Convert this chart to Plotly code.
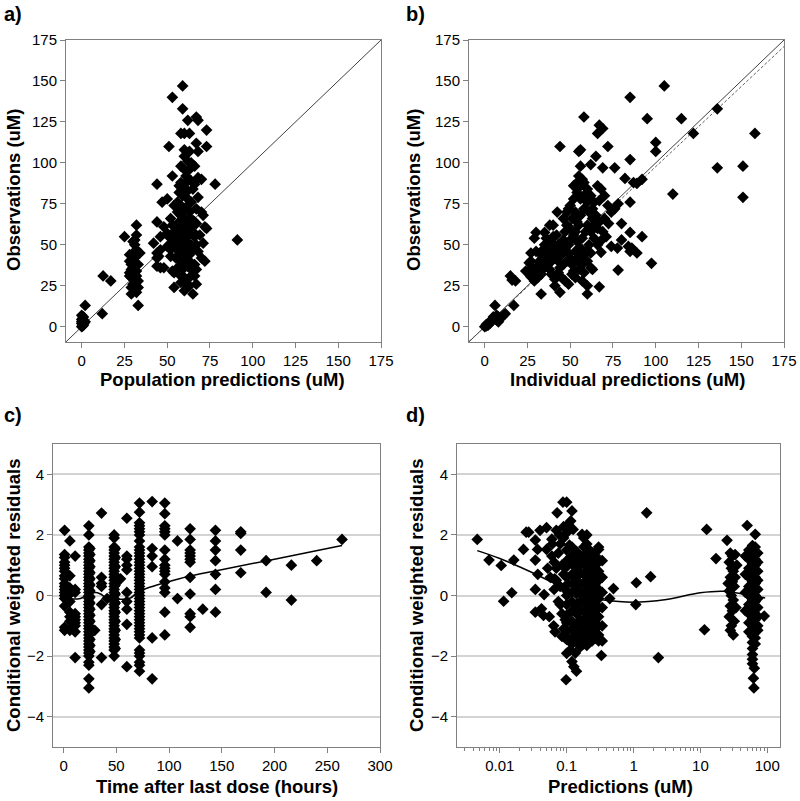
import plotly.graph_objects as go

# ---------------- Panel a: population predictions vs observations ----------------
a_pred = [0, 0.5, 1, 0, 1, 0.5, 0, 2, 1, 0,
          2, 1, 0.5, 1.5, 0, 12, 12.5, 17, 25, 28,
          28, 29, 29, 28, 28, 29, 29, 30, 30, 31,
          31, 31, 30, 32, 32, 32, 33, 32, 32, 33,
          33, 32, 33, 33, 30, 31, 34, 29, 30, 31,
          42, 44, 44, 44, 44, 44, 46, 47, 48, 46,
          45, 46, 48, 50, 50, 51, 52, 52, 53, 53,
          54, 54, 54, 51, 53, 52, 54, 55, 52, 50,
          59, 53, 59, 62, 67, 68, 58, 60, 63, 73,
          67, 73, 68, 63, 60, 62, 58, 60, 63, 66,
          64, 58, 61, 57, 66, 68, 70, 78, 57, 59,
          62, 65, 68, 56, 58, 61, 64, 67, 70, 71,
          56, 58, 60, 63, 66, 56, 59, 61, 64, 67,
          72, 73, 55, 57, 60, 63, 66, 69, 56, 58,
          61, 64, 67, 71, 55, 57, 60, 62, 65, 68,
          55, 58, 61, 63, 66, 70, 72, 56, 59, 62,
          64, 67, 57, 60, 63, 66, 58, 61, 63, 67,
          60, 65, 91, 59, 62, 65, 57, 60, 63, 62,
          59, 61, 64, 60, 57, 60, 63, 59, 62, 65]
a_obs = [0, 1, 2, 3, 4, 5, 7, 3, 1, 2,
         13, 6, 0.5, 2.5, 4.5, 8, 31, 28, 55, 44,
         40, 38, 35, 33, 31, 20, 24, 36, 30, 46,
         53, 42, 26, 62, 56, 47, 45, 34, 31, 28,
         24, 21, 13, 38, 52, 50, 45, 30, 41, 37,
         51, 87, 64, 45, 42, 37, 36, 76, 61, 55,
         43, 47, 36, 78, 57, 110, 50, 43, 34, 92,
         33, 74, 24, 55, 62, 66, 58, 53, 47, 49,
         147, 140, 133, 126, 128, 126, 118, 118, 118, 120,
         112, 110, 107, 107, 104, 101, 98, 96, 96, 98,
         89, 88, 88, 86, 87, 91, 90, 87, 82, 80,
         83, 84, 79, 76, 74, 73, 76, 72, 70, 68,
         70, 68, 66, 66, 64, 62, 60, 62, 61, 63,
         61, 60, 58, 56, 55, 56, 55, 56, 52, 50,
         52, 50, 50, 51, 48, 46, 47, 45, 47, 46,
         42, 40, 42, 40, 38, 42, 40, 36, 35, 37,
         35, 35, 32, 30, 30, 31, 27, 26, 25, 26,
         22, 20, 53, 57, 59, 58, 64, 71, 70, 78,
         84, 92, 100, 108, 44, 40, 44, 52, 48, 65]

# ---------------- Panel b: individual predictions vs observations ----------------
b_ipred = [0, 1, 2, 1, 3, 2, 4, 5, 6, 7,
           8, 8, 9, 10, 11, 12, 7, 3, 6, 1,
           105, 85, 58, 95, 115, 136, 122, 158, 100, 100,
           110, 136, 151, 151, 97.5, 44, 67, 69, 66, 72,
           56, 55, 85, 92, 89, 82, 85, 78, 76, 76,
           69, 56, 65, 62, 80, 80, 85, 84, 86, 85,
           92, 89, 77.6, 78, 67, 72.4, 68.4, 68, 74, 63,
           60, 60, 67, 44, 41, 33, 16, 15, 17, 30,
           35, 29, 38, 42.4, 27, 26, 24, 27, 18, 87,
           30, 31, 32, 33, 34, 35, 36, 37, 38, 39,
           40, 41, 42, 43, 44, 45, 46, 47, 48, 49,
           50, 51, 52, 53, 47, 49, 45, 43, 41, 39,
           46, 48, 50, 52, 54, 56, 58, 60, 62, 64,
           50, 52, 54, 56, 58, 60, 62, 54, 56, 58,
           60, 62, 64, 66, 53, 55, 57, 59, 61, 63,
           49, 51, 53, 55, 57, 59, 61, 63, 65, 67,
           47, 45, 43, 41, 39, 37, 35, 33, 31, 29,
           54, 56, 58, 60, 52, 55, 57, 53, 51, 49,
           66, 68, 70, 72, 74, 70, 66, 64, 69, 71,
           55, 53, 51, 57, 58, 48, 46, 44, 42, 40,
           36, 34, 32, 30, 38, 28, 26, 27, 36, 62]
b_obs = [0, 1, 2, 1.5, 3, 1, 4, 6, 5, 4,
         3, 6, 5, 6, 7, 8, 7, 2, 13, 0.5,
         147, 140, 128, 127, 127, 133, 118, 118, 112.5, 107,
         81, 97, 98, 79, 38.7, 110, 123, 121, 118, 110,
         108, 107, 102, 90, 87.5, 90.5, 76, 75, 72, 97,
         97, 98, 104, 99, 63, 53, 57.6, 49, 48, 46,
         55, 45, 48, 34.6, 77, 63, 53, 45.4, 49, 35,
         25, 20, 24.4, 21, 25, 20, 28.5, 31, 13, 57.6,
         57.6, 54, 62, 70, 45, 39, 34, 30.5, 28, 88,
         33, 36, 40, 44, 47, 50, 42, 38, 46, 52,
         55, 48, 44, 40, 36, 50, 53, 58, 62, 45,
         42, 38, 34, 30, 28, 26, 30, 33, 29, 32,
         66, 70, 74, 78, 82, 86, 88, 84, 80, 76,
         60, 56, 52, 48, 44, 40, 36, 64, 68, 72,
         62, 58, 54, 50, 46, 42, 38, 46, 50, 66,
         50, 54, 58, 62, 54, 58, 70, 72, 68, 64,
         48, 44, 50, 42, 40, 44, 36, 32, 30, 28,
         88, 78, 80, 76, 86, 92, 90, 70, 66, 72,
         86, 84, 80, 74, 70, 66, 60, 62, 58, 55,
         35, 40, 32, 28, 33, 40, 38, 46, 56, 62,
         54, 42, 38, 46, 35, 36, 33, 40, 48, 45]
b_fit_x = [-9.2, 175]
b_fit_y = [-9.0, 171]
identity = [-9.2, 175]

# ---------------- Panel c: CWRES vs time after last dose (by nominal time) ----------------
c_times = [1, 6, 11, 24, 25, 29.6, 36, 41.3, 48, 49, 54, 60, 72, 84, 96, 108, 120, 132, 144, 168, 192, 216, 240, 264]
c_t1 = [2.15, 1.35, 1.25, 1.1, 1.0, 0.9, 0.8, 0.65, 0.55, 0.4, 0.3, 0.2, 0.1, 0.0, -0.1, -0.35, -1.05, -1.15]
c_t6 = [1.8, 0.65, 0.25, 0.15, 0.05, -0.2, -0.55, -0.7, -0.85, -1.1, -1.15]
c_t11 = [1.3, 0.2, 0.1, -0.6, -0.7, -0.8, -0.9, -1.0, -1.2, -2.05]
c_t24 = [2.3, 2.0, 1.6, 1.5, 1.4, 1.3, 1.2, 1.1, 1.0, 0.9, 0.8, 0.7, 0.6, 0.5, 0.4, 0.3, 0.2, 0.1, 0.0,
         -0.1, -0.2, -0.3, -0.4, -0.5, -0.6, -0.7, -0.8, -0.9, -1.0, -1.1, -1.2, -1.3, -1.4, -1.5,
         -1.6, -1.7, -1.8, -1.9, -2.0, -2.2, -2.3, -2.75, -3.05]
c_t25 = [1.55, 1.35, 1.15, 0.95, 0.75, 0.55, 0.35, 0.15, -0.05, -0.25, -0.45, -0.65, -0.85, -1.05,
         -1.25, -1.45, -1.65, -1.85]
c_t29 = [-1.15]
c_t36 = [2.72, 0.6, 0.4, 0.3, -0.3, -2.05]
c_t41 = [-0.1]
c_t48 = [2.0, 1.9, 1.6, 1.5, 1.4, 1.3, 1.2, 1.1, 1.0, 0.9, 0.8, 0.7, 0.6, 0.5, 0.4, 0.3, 0.2, 0.1, 0.0,
         -0.1, -0.2, -0.3, -0.4, -0.5, -0.6, -0.7, -0.8, -0.9, -1.0, -1.1, -1.2, -1.3, -1.4, -1.5,
         -1.6, -1.7, -1.8, -2.0]
c_t49 = [1.55, 1.25, 0.95, 0.65, 0.35, 0.05, -0.25, -0.55, -0.85, -1.15, -1.45, -1.75]
c_t54 = [0.55]
c_t60 = [2.55, 1.3, 1.2, 1.0, 0.85, 0.1, -0.2, -0.45, -0.95, -2.35]
c_t72 = [3.05, 2.75, 2.4, 2.3, 2.2, 2.1, 2.0, 1.8, 1.6, 1.5, 1.4, 1.3, 1.2, 1.1, 1.0, 0.9, 0.8, 0.7,
         0.6, 0.5, 0.4, 0.3, 0.2, 0.1, 0.0, -0.1, -0.2, -0.3, -0.4, -0.5, -0.6, -0.7, -0.8, -0.9,
         -1.0, -1.1, -1.2, -1.3, -1.4, -1.8, -1.9, -2.0, -2.2, -2.3, -2.5]
c_t84 = [3.1, 1.55, 1.3, 0.95, -1.4, -2.75]
c_t96 = [3.05, 2.7, 2.3, 2.2, 2.1, 2.0, 1.5, 1.2, 1.0, 0.9, 0.8, 0.7, 0.45, 0.25, 0.1, -0.55, -1.3]
c_t108 = [1.8, -0.1]
c_t120 = [2.2, 1.85, 1.5, 1.4, 1.3, 1.2, 1.1, 0.6, 0.05, -0.6, -0.7, -1.05]
c_t132 = [-0.45]
c_t144 = [2.15, 1.8, 1.5, 1.15, 0.7, 0.2, -0.55]
c_t168 = [2.1, 2.05, 1.5, 0.75]
c_t192 = [1.15, 0.1]
c_t216 = [1.0, -0.15]
c_t240 = [1.15]
c_t264 = [1.85]
c_columns = [c_t1, c_t6, c_t11, c_t24, c_t25, c_t29, c_t36, c_t41, c_t48, c_t49, c_t54, c_t60, c_t72,
             c_t84, c_t96, c_t108, c_t120, c_t132, c_t144, c_t168, c_t192, c_t216, c_t240, c_t264]
c_smooth_x = [0, 16, 22.4, 30.3, 35, 41.3, 63.4, 69.7, 79, 98, 117, 145, 193, 264]
c_smooth_y = [-0.1, -0.1, 0.03, 0.1, 0.05, -0.08, -0.08, 0.1, 0.24, 0.44, 0.62, 0.82, 1.15, 1.65]

# ---------------- Panel d: CWRES vs predictions (log scale) ----------------
d_pred_low = [0.0046, 0.0069, 0.0105, 0.0114, 0.0151, 0.0162, 0.0226, 0.0248, 0.027, 0.034,
              0.034, 0.034, 0.034, 0.0367, 0.037, 0.04, 0.042, 0.045, 0.046, 0.05,
              0.052, 0.05, 0.055, 0.057, 0.06, 0.061, 0.064, 0.066, 0.067, 0.07,
              0.072, 0.088, 0.1, 0.09, 0.1, 0.105, 0.115, 0.12, 0.125, 0.11,
              0.1, 0.098, 0.113, 0.12, 0.128, 0.14, 0.135, 0.17, 0.33, 0.3,
              0.5, 0.44, 1.1, 1.08, 1.8, 1.57, 2.35,
              0.06, 0.065, 0.07, 0.075, 0.08, 0.08, 0.085, 0.075, 0.07, 0.085,
              0.09, 0.09, 0.085, 0.095, 0.08, 0.078, 0.09, 0.095, 0.095, 0.065]
d_res_low = [1.85, 1.17, 0.99, -0.19, 0.09, 1.17, 1.52, 2.09, 2.09, 1.83,
             1.17, 0.2, -0.55, 1.52, 0.7, 2.15, -0.44, -0.66, 0.03, 2.24,
             0.9, 1.52, -0.7, 0.6, 1.86, 1.7, -1.0, 0.55, -1.2, 2.15,
             2.73, 3.08, 3.08, 2.27, 2.07, 2.35, 2.46, 2.79, 2.18, 1.66,
             -1.91, -2.78, -1.8, -2.18, -2.35, -2.5, -1.9, 2.02, -1.98, 1.52,
             0.23, -0.1, 0.42, -0.3, 0.62, 2.73, -2.05,
             1.3, 1.1, 0.9, 1.4, 0.3, -0.3, -0.6, -0.2, 0.5, 1.0,
             0.7, -1.1, -1.35, -1.4, 1.7, 2.0, 1.9, 0.2, -0.8, 0.2]
d_cloud_x = [0.1, 0.12, 0.14, 0.16, 0.18, 0.2, 0.22, 0.24, 0.27, 0.3, 0.34]
d_c010 = [1.5, 1.15, 0.95, 0.6, 0.35, 0.0, -0.3, -0.65, -0.9, -1.2, -1.45]
d_c012 = [1.6, 1.3, 1.05, 0.7, 0.4, 0.1, -0.2, -0.5, -0.85, -1.1, -1.4, -1.6]
d_c014 = [1.45, 1.2, 0.9, 0.6, 0.3, 0.05, -0.3, -0.6, -0.95, -1.2, -1.5]
d_c016 = [1.3, 1.0, 0.75, 0.4, 0.1, -0.2, -0.5, -0.8, -1.1, -1.4, -1.7]
d_c018 = [1.9, 1.6, 1.3, 1.05, 0.7, 0.4, 0.1, -0.2, -0.5, -0.8, -1.1, -1.35, -1.6]
d_c020 = [2.0, 1.7, 1.4, 1.1, 0.8, 0.5, 0.2, -0.1, -0.4, -0.7, -1.0, -1.3, -1.65]
d_c022 = [1.5, 1.2, 0.9, 0.6, 0.3, 0.0, -0.3, -0.6, -0.9, -1.2, -1.5]
d_c024 = [1.4, 1.1, 0.8, 0.5, 0.2, -0.1, -0.4, -0.7, -1.0, -1.3, -1.5]
d_c027 = [1.3, 1.0, 0.7, 0.4, 0.1, -0.2, -0.5, -0.8, -1.1, -1.4]
d_c030 = [1.6, 1.15, 0.8, 0.5, 0.2, -0.1, -0.4, -0.7, -1.0, -1.3, -1.5]
d_c034 = [1.15, 0.6, 0.1, -0.4, -1.0, -1.5]
d_cloud = [d_c010, d_c012, d_c014, d_c016, d_c018, d_c020, d_c022, d_c024, d_c027, d_c030, d_c034]
d_pred_high = [28, 30, 33, 27, 29, 31, 28, 30, 32, 27,
               29, 31, 28, 30, 27, 32, 29, 28, 31, 26,
               35, 34, 33, 50, 66, 62, 63, 60, 64, 90,
               25, 17.1, 12.4, 11.5]
d_res_high = [1.4, 1.3, 1.35, 1.1, 0.9, 0.8, 0.6, 0.45, 0.3, 0.15,
              0.0, -0.15, -0.35, -0.5, -0.7, -0.85, -1.0, -1.15, -1.3, 0.4,
              1.0, -0.4, 0.6, 2.31, 2.02, -2.73, -3.05, -2.25, -2.4, -0.68,
              1.82, 1.22, 2.18, -1.13]
d_col_x = [47, 53, 60, 66, 72]
d_r47 = [1.3, 0.7, 0.1, -0.5]
d_r53 = [1.5, 1.2, 0.9, 0.6, 0.3, 0.0, -0.3, -0.6, -0.9, -1.2]
d_r60 = [1.65, 1.45, 1.25, 1.05, 0.85, 0.65, 0.45, 0.25, 0.05, -0.15, -0.35, -0.55, -0.75, -0.95,
         -1.15, -1.35, -1.55, -1.75, -1.95, -2.1]
d_r66 = [1.6, 1.4, 1.2, 1.0, 0.8, 0.6, 0.4, 0.2, 0.0, -0.2, -0.4, -0.6, -0.8, -1.0, -1.2, -1.4, -1.6]
d_r72 = [1.4, 1.1, 0.8, 0.5, 0.2, -0.1, -0.4, -0.7, -1.0, -1.15]
d_cols = [d_r47, d_r53, d_r60, d_r66, d_r72]
d_smooth_x = [0.0046, 0.01, 0.031, 0.079, 0.157, 0.31, 0.98, 3.1, 9.9, 22, 44, 93]
d_smooth_y = [1.48, 1.22, 0.75, 0.3, -0.02, -0.13, -0.22, -0.13, 0.09, 0.14, 0.05, -0.08]

# ---------------- Figure ----------------
W, H = 800, 801
FONT = "Liberation Sans, Arial, sans-serif"
AX_GREY = "#808080"
marker = dict(symbol="diamond", size=9, color="black", line=dict(width=0))

fig = go.Figure()


def scatter(x, y, xa, ya):
    fig.add_trace(go.Scatter(x=x, y=y, mode="markers", marker=marker, xaxis=xa, yaxis=ya,
                             showlegend=False, hoverinfo="skip"))


def line(x, y, xa, ya, dash="solid", width=1, color="#333333", shape="linear"):
    fig.add_trace(go.Scatter(x=x, y=y, mode="lines", line=dict(color=color, width=width, dash=dash,
                                                                shape=shape),
                             xaxis=xa, yaxis=ya, showlegend=False, hoverinfo="skip"))


# a
line(identity, identity, "x", "y", color="#404040")
scatter(a_pred, a_obs, "x", "y")
# b
line(identity, identity, "x2", "y2", color="#404040")
line(b_fit_x, b_fit_y, "x2", "y2", dash="3px,2px", color="#606060")
scatter(b_ipred, b_obs, "x2", "y2")
# c
cx, cy = [], []
for t, col in zip(c_times, c_columns):
    cx += [t] * len(col)
    cy += col
scatter(cx, cy, "x3", "y3")
line(c_smooth_x, c_smooth_y, "x3", "y3", width=1.5, color="black", shape="spline")
# d
dx, dy = list(d_pred_low), list(d_res_low)
for xv, col in zip(d_cloud_x, d_cloud):
    dx += [xv] * len(col)
    dy += col
dx += d_pred_high
dy += d_res_high
for xv, col in zip(d_col_x, d_cols):
    dx += [xv] * len(col)
    dy += col
scatter(dx, dy, "x4", "y4")
line(d_smooth_x, d_smooth_y, "x4", "y4", width=1.5, color="black", shape="spline")


def px_x(p):
    return p / W


def px_y(p):
    return 1 - p / H


axis_common = dict(showline=True, linecolor=AX_GREY, linewidth=1, mirror=True, ticks="outside",
                   ticklen=5, tickcolor=AX_GREY, zeroline=False, showgrid=False, automargin=False,
                   tickfont=dict(family=FONT, size=15, color="black"))

obs_ticks = [0, 25, 50, 75, 100, 125, 150, 175]
fig.update_layout(
    width=W, height=H, margin=dict(l=0, r=0, t=0, b=0, autoexpand=False),
    plot_bgcolor="white", paper_bgcolor="white",
    xaxis=dict(domain=[px_x(66), px_x(381)], range=[-9.2, 175], tickvals=obs_ticks, anchor="y", **axis_common),
    yaxis=dict(domain=[px_y(342), px_y(40)], range=[-9.3, 175], tickvals=obs_ticks, anchor="x", **axis_common),
    xaxis2=dict(domain=[px_x(469), px_x(784)], range=[-9.2, 175], tickvals=obs_ticks, anchor="y2", **axis_common),
    yaxis2=dict(domain=[px_y(342), px_y(40)], range=[-9.3, 175], tickvals=obs_ticks, anchor="x2", **axis_common),
    xaxis3=dict(domain=[px_x(53), px_x(380)], range=[-10, 300], tickvals=[0, 50, 100, 150, 200, 250, 300],
                anchor="y3", **axis_common),
    yaxis3=dict(domain=[px_y(747), px_y(444)], range=[-5, 5], tickvals=[-4, -2, 0, 2, 4], anchor="x3",
                **{**axis_common, "showgrid": True}, gridcolor="#d3d3d3", gridwidth=1.5),
    xaxis4=dict(domain=[px_x(457), px_x(780)], type="log", range=[-2.64, 2.19],
                tickvals=[0.01, 0.1, 1, 10, 100], ticktext=["0.01", "0.1", "1", "10", "100"],
                minor=dict(ticks="outside", ticklen=3, tickcolor=AX_GREY, dtick="D1", showgrid=False),
                anchor="y4", **axis_common),
    yaxis4=dict(domain=[px_y(747), px_y(444)], range=[-5, 5], tickvals=[-4, -2, 0, 2, 4], anchor="x4",
                **{**axis_common, "showgrid": True}, gridcolor="#d3d3d3", gridwidth=1.5),
)

title_font = dict(family=FONT, size=18.5, color="black")
label_font = dict(family=FONT, size=20, color="black")
annots = [
    # panel labels
    ("<b>a)</b>", 2, 14, 0, label_font, "left"),
    ("<b>b)</b>", 404, 14, 0, label_font, "left"),
    ("<b>c)</b>", 2, 415, 0, label_font, "left"),
    ("<b>d)</b>", 404, 415, 0, label_font, "left"),
    # x titles
    ("<b>Population predictions (uM)</b>", 222, 379, 0, title_font, "center"),
    ("<b>Individual predictions (uM)</b>", 627, 379, 0, title_font, "center"),
    ("<b>Time after last dose (hours)</b>", 217, 786, 0, title_font, "center"),
    ("<b>Predictions (uM)</b>", 620, 786, 0, title_font, "center"),
    # y titles
    ("<b>Observations (uM)</b>", 13, 190, -90, title_font, "center"),
    ("<b>Observations (uM)</b>", 413, 190, -90, title_font, "center"),
    ("<b>Conditional weighted residuals</b>", 13, 596, -90, title_font, "center"),
    ("<b>Conditional weighted residuals</b>", 416, 596, -90, title_font, "center"),
]
for text, x, y, ang, f, anc in annots:
    fig.add_annotation(text=text, x=px_x(x), y=px_y(y), xref="paper", yref="paper", showarrow=False,
                       textangle=ang, font=f, xanchor=anc if ang == 0 else "center", yanchor="middle")

fig.write_html("out.html", config={"displayModeBar": False},
               post_script="document.body.style.margin='0';document.body.style.overflow='hidden';")
